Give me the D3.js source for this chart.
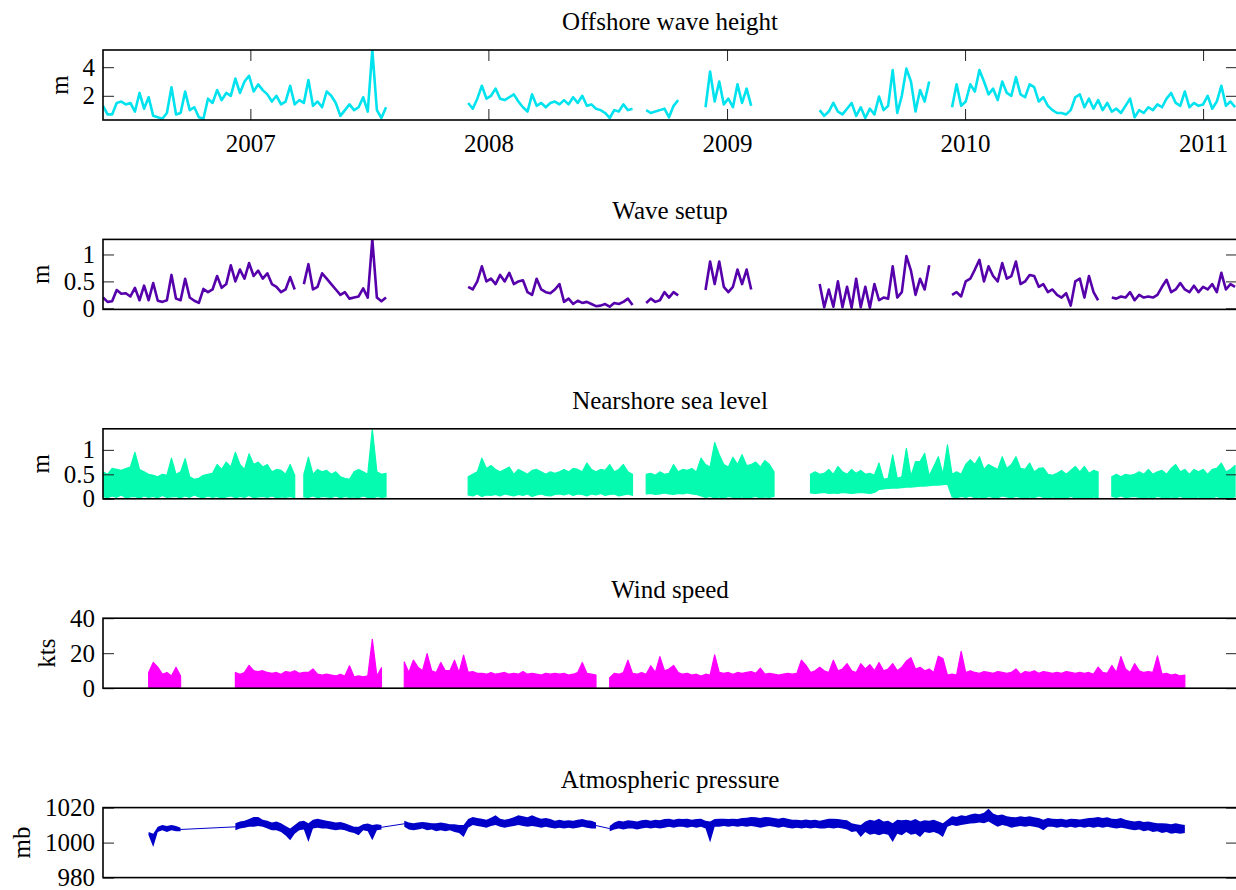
<!DOCTYPE html>
<html>
<head>
<meta charset="utf-8">
<title>Offshore and nearshore time series</title>
<style>
  body { margin: 0; background: #fff; }
  svg text { font-family: "Liberation Serif", "Times New Roman", serif; font-size: 25px; fill: #000; }
</style>
</head>
<body>
<script src="https://cdn.jsdelivr.net/npm/d3@7"></script>
<script>
// one sample per week starting 2006-05-20, null = no record
var firstWeek = new Date(Date.UTC(2006, 4, 20));
var lastDay = new Date(Date.UTC(2011, 1, 22));

var titles = ["Offshore wave height", "Wave setup", "Nearshore sea level", "Wind speed", "Atmospheric pressure"];
var units = ["m", "m", "m", "kts", "mb"];
var yTicks = [[2, 4], [0, 0.5, 1], [0, 0.5, 1], [0, 20, 40], [980, 1000, 1020]];
var yLimits = [[0.31, 5.2], [-0.02, 1.28], [0, 1.43], [0, 40], [980, 1020]];
var yearTicks = [2007, 2008, 2009, 2010, 2011];
var colors = ["#00e3ef", "#5500aa", "#04fbb0", "#ff00ff", "#0000c8"];

// offshore wave height (m)
var heightVals = [
  1.3, 0.7, 0.7, 1.5, 1.6, 1.4, 1.5, 0.9, 2.2, 1.1,
  1.9, 0.6, 0.5, 0.4, 0.8, 2.6, 0.7, 0.8, 2.3, 1.0,
  1.2, 0.5, 0.4, 1.8, 1.5, 2.4, 1.7, 2.2, 2.0, 3.2,
  2.2, 3.0, 3.4, 2.3, 2.8, 2.4, 2.1, 1.6, 2.0, 1.4,
  1.6, 2.7, 1.4, 1.7, 1.5, 3.1, 1.3, 1.6, 1.2, 2.3,
  2.0, 1.5, 0.6, 1.0, 1.4, 1.0, 1.2, 1.9, 0.9, 5.2,
  1.0, 0.45, 1.2, null, null, null, null, null, null, null,
  null, null, null, null, null, null, null, null, null, null,
  1.5, 1.1, 1.8, 2.7, 1.8, 2.0, 2.5, 1.8, 1.7, 1.9,
  2.1, 1.6, 1.2, 0.9, 2.1, 1.3, 1.5, 1.2, 1.5, 1.6,
  1.4, 1.7, 1.4, 1.9, 1.5, 2.0, 1.3, 1.4, 1.1, 1.0,
  0.8, 0.45, 1.0, 0.9, 1.4, 1.0, 1.1, null, null, 1.0,
  0.8, 0.9, 1.0, 1.1, 0.5, 1.3, 1.7, null, null, null,
  null, null, 1.2, 3.7, 1.6, 3.0, 1.4, 1.8, 1.2, 2.8,
  1.5, 2.5, 1.3, null, null, null, null, null, null, null,
  null, null, null, null, null, null, null, 1.0, 0.6, 0.9,
  1.5, 0.9, 0.7, 1.1, 1.5, 0.6, 1.2, 0.45, 1.1, 0.7,
  1.95, 1.0, 1.3, 3.8, 0.8, 2.0, 3.9, 3.0, 0.9, 2.4,
  1.6, 3.0, null, null, null, null, 1.2, 2.8, 1.3, 1.6,
  2.8, 2.3, 3.8, 3.0, 2.1, 2.5, 1.7, 3.0, 2.2, 2.0,
  3.3, 2.1, 1.9, 2.8, 2.6, 1.6, 1.9, 1.3, 1.0, 0.8,
  0.8, 0.7, 1.0, 1.9, 2.1, 1.2, 1.8, 1.1, 1.7, 1.0,
  1.5, 0.9, 1.1, 0.8, 1.3, 1.8, 0.5, 1.0, 0.8, 1.2,
  1.0, 1.4, 1.2, 1.8, 2.2, 1.5, 1.3, 2.3, 1.2, 1.5,
  1.3, 1.4, 2.0, 1.1, 1.6, 2.7, 1.3, 1.6, 1.2
];

// wave setup (m)
var setupVals = [
  0.2, 0.12, 0.13, 0.34, 0.27, 0.28, 0.22, 0.38, 0.15, 0.42,
  0.15, 0.47, 0.14, 0.12, 0.15, 0.62, 0.18, 0.15, 0.55, 0.2,
  0.14, 0.1, 0.36, 0.3, 0.35, 0.6, 0.38, 0.45, 0.8, 0.5,
  0.72, 0.55, 0.84, 0.6, 0.7, 0.55, 0.65, 0.45, 0.4, 0.3,
  0.35, 0.58, 0.35, null, 0.45, 0.82, 0.35, 0.4, 0.65, 0.55,
  0.45, 0.35, 0.25, 0.3, 0.18, 0.2, 0.22, 0.37, 0.2, 1.28,
  0.2, 0.13, 0.2, null, null, null, null, null, null, null,
  null, null, null, null, null, null, null, null, null, null,
  0.4, 0.35, 0.5, 0.78, 0.5, 0.55, 0.45, 0.62, 0.5, 0.66,
  0.45, 0.5, 0.52, 0.3, 0.25, 0.55, 0.35, 0.3, 0.28, 0.35,
  0.45, 0.12, 0.18, 0.08, 0.14, 0.1, 0.12, 0.08, 0.04, 0.05,
  0.08, 0.03, 0.1, 0.08, 0.12, 0.18, 0.06, null, null, 0.1,
  0.18, 0.12, 0.15, 0.3, 0.2, 0.3, 0.24, null, null, null,
  null, null, 0.34, 0.87, 0.45, 0.87, 0.4, 0.3, 0.4, 0.72,
  0.45, 0.72, 0.35, null, null, null, null, null, null, null,
  null, null, null, null, null, null, null, 0.45, 0.02, 0.35,
  0.03, 0.5, 0.02, 0.4, 0.01, 0.55, 0.02, 0.4, 0.01, 0.45,
  0.15, 0.2, 0.18, 0.78, 0.2, 0.3, 0.97, 0.7, 0.25, 0.55,
  0.35, 0.8, null, null, null, null, 0.25, 0.3, 0.22, 0.5,
  0.55, 0.72, 0.9, 0.5, 0.78, 0.6, 0.5, 0.84, 0.55, 0.6,
  0.87, 0.45, 0.5, 0.62, 0.6, 0.4, 0.45, 0.3, 0.35, 0.25,
  0.2, 0.28, 0.05, 0.5, 0.55, 0.2, 0.6, 0.3, 0.15, null,
  null, 0.2, 0.18, 0.22, 0.2, 0.3, 0.15, 0.25, 0.2, 0.22,
  0.2, 0.25, 0.4, 0.53, 0.3, 0.35, 0.47, 0.35, 0.3, 0.42,
  0.3, 0.4, 0.35, 0.45, 0.3, 0.66, 0.35, 0.45, 0.4
];

// nearshore sea level, weekly high and low (m)
var seaHigh = [
  0.55, 0.5, 0.62, 0.6, 0.58, 0.62, 0.65, 0.95, 0.6, 0.55,
  0.5, 0.48, 0.45, 0.5, 0.48, 0.83, 0.5, 0.55, 0.82, 0.45,
  0.4, 0.42, 0.48, 0.5, 0.52, 0.7, 0.6, 0.75, 0.65, 0.95,
  0.7, 0.6, 0.92, 0.7, 0.75, 0.65, 0.7, 0.55, 0.6, 0.58,
  0.5, 0.7, 0.48, null, 0.5, 0.85, 0.5, 0.6, 0.55, 0.58,
  0.5, 0.55, 0.45, 0.42, 0.4, 0.55, 0.6, 0.55, 0.5, 1.43,
  0.55, 0.5, 0.52, null, null, null, null, null, null, null,
  null, null, null, null, null, null, null, null, null, null,
  0.45, 0.5, 0.55, 0.83, 0.62, 0.68, 0.6, 0.55, 0.6, 0.65,
  0.5, 0.6, 0.55, 0.5, 0.58, 0.6, 0.55, 0.5, 0.55, 0.52,
  0.55, 0.6, 0.55, 0.62, 0.6, 0.55, 0.73, 0.6, 0.55, 0.6,
  0.58, 0.7, 0.55, 0.6, 0.7, 0.55, 0.5, null, null, 0.5,
  0.52, 0.48, 0.55, 0.5, 0.52, 0.7, 0.55, 0.6, 0.58, 0.62,
  0.55, 0.83, 0.7, 0.65, 1.15, 0.9, 0.7, 0.65, 0.85, 0.7,
  0.9, 0.68, 0.7, 0.75, 0.65, 0.78, 0.7, 0.55, null, null,
  null, null, null, null, null, 0.5, 0.55, 0.5, 0.52, 0.6,
  0.5, 0.66, 0.55, 0.5, 0.6, 0.52, 0.58, 0.5, 0.52, 0.48,
  0.73, 0.4, 0.42, 0.9, 0.42, 0.45, 1.03, 0.46, 0.76, 0.76,
  0.93, 0.47, 0.66, 0.86, 0.5, 1.1, 0.5, 0.55, 0.5, 0.7,
  0.8, 0.7, 0.86, 0.6, 0.7, 0.65, 0.6, 0.86, 0.62, 0.7,
  0.86, 0.62, 0.6, 0.73, 0.55, 0.62, 0.63, 0.5, 0.48, 0.52,
  0.58, 0.5, 0.58, 0.66, 0.55, 0.66, 0.52, 0.58, 0.55, null,
  null, 0.45, 0.5, 0.45, 0.5, 0.48, 0.5, 0.55, 0.5, 0.6,
  0.5, 0.55, 0.58, 0.5, 0.62, 0.7, 0.55, 0.6, 0.5, 0.6,
  0.55, 0.6, 0.5, 0.6, 0.62, 0.73, 0.55, 0.6, 0.68
];
var seaLow = [
  0.05, 0.02, 0.06, 0.03, 0.08, 0.02, 0.04, 0.05, 0.01, 0.06,
  0.03, 0.05, 0.02, 0.07, 0.03, 0.04, 0.05, 0.02, 0.06, 0.03,
  0.08, 0.04, 0.02, 0.06, 0.03, 0.05, 0.01, 0.04, 0.06, 0.02,
  0.05, 0.03, 0.07, 0.02, 0.04, 0.05, 0.03, 0.06, 0.02, 0.04,
  0.03, 0.05, 0.02, null, 0.04, 0.03, 0.06, 0.02, 0.05, 0.04,
  0.03, 0.06, 0.02, 0.05, 0.03, 0.04, 0.02, 0.06, 0.03, 0.01,
  0.05, 0.03, 0.04, null, null, null, null, null, null, null,
  null, null, null, null, null, null, null, null, null, null,
  0.08, 0.06, 0.1, 0.05, 0.08, 0.07, 0.09, 0.06, 0.1, 0.08,
  0.06, 0.09, 0.07, 0.1, 0.05, 0.08, 0.1, 0.07, 0.06, 0.09,
  0.1, 0.08, 0.11, 0.07, 0.1, 0.09, 0.06, 0.1, 0.08, 0.11,
  0.07, 0.09, 0.1, 0.06, 0.08, 0.1, 0.07, null, null, 0.1,
  0.11, 0.09, 0.1, 0.12, 0.1, 0.09, 0.11, 0.1, 0.12, 0.1,
  0.09, 0.06, 0.03, 0.05, 0.02, 0.04, 0.01, 0.05, 0.03, 0.02,
  0.04, 0.01, 0.03, 0.05, 0.02, 0.04, 0.03, 0.05, null, null,
  null, null, null, null, null, 0.12, 0.11, 0.12, 0.13, 0.11,
  0.12, 0.11, 0.13, 0.12, 0.11, 0.12, 0.13, 0.12, 0.11, 0.13,
  0.19, 0.2, 0.21, 0.22, 0.22, 0.23, 0.24, 0.24, 0.25, 0.26,
  0.26, 0.27, 0.28, 0.28, 0.29, 0.3, 0.04, 0.02, 0.05, 0.03,
  0.06, 0.02, 0.04, 0.01, 0.05, 0.03, 0.02, 0.06, 0.04, 0.02,
  0.05, 0.03, 0.01, 0.04, 0.02, 0.06, 0.03, 0.01, 0.04, 0.02,
  0.03, 0.01, 0.05, 0.02, 0.0, 0.03, 0.01, 0.04, 0.02, null,
  null, 0.05, 0.03, 0.06, 0.02, 0.04, 0.05, 0.03, 0.01, 0.04,
  0.02, 0.05, 0.03, 0.01, 0.04, 0.02, 0.05, 0.01, 0.03, 0.02,
  0.04, 0.01, 0.03, 0.02, 0.05, 0.01, 0.03, 0.02, 0.04
];

// wind speed, weekly peak (kts)
var windHigh = [
  null, null, null, null, null, null, null, null, null, null,
  9, 14.7, 12, 8, 9, 7, 12, 7, null, null,
  null, null, null, null, null, null, null, null, null, 9,
  8, 9, 13, 10, 9.5, 10, 9, 8.5, 9, 8,
  9.5, 9, 10, 8.5, 9, 9, 11, 8, 7.5, 8,
  7.5, 7, 8, 7, 12.8, 6.5, 7, 6.5, 7, 27.9,
  7, 11.7, null, null, null, null, 15, 9, 16, 12,
  10, 19.8, 10, 9, 14.7, 10, 10, 16, 9, 18.9,
  9, 9.5, 8.5, 8.5, 8, 9, 8, 8.5, 9, 8,
  8.5, 8, 9.5, 8, 8.5, 8, 7.5, 8.5, 8, 8.5,
  8, 8.5, 7.5, 8, 9, 14.7, 8.5, 8, 7.5, null,
  null, 6, 8.5, 8, 9, 16, 8.5, 8, 9, 8,
  12.8, 9, 18, 10, 11, 13, 9, 8, 8.5, 7.5,
  8, 7, 8, 7.5, 19, 9, 8.5, 9, 8, 9,
  8.5, 9, 9.5, 8.5, 11.5, 8, 8.5, 8, 7.5, 8,
  8.5, 8, 8.5, 16, 13, 9, 10, 12, 10, 9,
  16, 10, 11, 14, 10, 9, 14, 11, 13.5, 10,
  14.7, 10, 11, 14, 10, 12, 15.5, 17.4, 11, 12,
  10, 11, 9, 18.3, 17, 7.5, 8, 7.5, 21, 9,
  10, 9, 8.5, 9.5, 9, 8.5, 9.5, 9, 8.5, 9,
  11, 8, 9.5, 9, 10, 8.5, 9.5, 9, 8.5, 9,
  8.5, 9.5, 9, 8.5, 9, 8.5, 9, 8, 12, 9,
  8.5, 13, 9, 18, 11, 9, 14, 10, 9, 9.5,
  9, 18.5, 8, 8.5, 7.5, 8, 7, 7.5, null, null,
  null, null, null, null, null, null, null, null, null
];

// atmospheric pressure, weekly low and high (mb)
var pressLow = [
  null, null, null, null, null, null, null, null, null, null,
  1004, 997.5, 1006, 1007, 1006, 1007, 1006.5, 1006.5, null, null,
  null, null, null, null, null, null, null, null, null, 1007,
  1008, 1008.5, 1009, 1009, 1009.5, 1009, 1008, 1007, 1007, 1006,
  1004, 1001.3, 1005, 1007, 1007.5, 1000.4, 1008, 1008.5, 1008, 1008,
  1007.5, 1007, 1007.5, 1007, 1006, 1005.5, 1004.2, 1007, 1006.5, 1001.3,
  1007, 1007.5, null, null, null, null, 1009, 1007.5, 1007, 1007.5,
  1008, 1007, 1007.5, 1006.5, 1007, 1006.5, 1007, 1006, 1005.5, 1003.2,
  1008.5, 1010, 1009.5, 1009, 1008.5, 1009.5, 1010, 1009, 1008.5, 1009,
  1009.5, 1010, 1009.5, 1009, 1009.5, 1009, 1008.5, 1009, 1008.5, 1008,
  1008.5, 1008, 1008.5, 1008, 1008.5, 1009, 1008.5, 1008, 1008, null,
  null, 1006.5, 1007.5, 1008, 1007.5, 1008, 1008, 1007.5, 1008, 1008.5,
  1008, 1008.5, 1008, 1008.5, 1009, 1008.5, 1009, 1009, 1008.5, 1009,
  1008.5, 1009, 1008, 1000, 1009, 1009, 1009.5, 1009, 1009.5, 1009,
  1009.5, 1009, 1009.5, 1009, 1008.5, 1009, 1009.5, 1009, 1008.5, 1009,
  1008.5, 1008, 1008.5, 1008, 1008.5, 1008, 1008.5, 1008, 1008, 1008.5,
  1008, 1008.5, 1008, 1007.5, 1006, 1006.5, 1003.2, 1006, 1004.5, 1005,
  1004.2, 1005, 1004.5, 1000.4, 1005, 1004.2, 1006, 1004.5, 1005, 1003.2,
  1006, 1005.5, 1006, 1005, 1003.2, 1009, 1010, 1009.5, 1010, 1010.5,
  1010.9, 1011, 1011.5, 1011, 1012, 1010.5, 1009, 1010, 1009.5, 1008.5,
  1009, 1009.5, 1009, 1009.5, 1009, 1008.5, 1007, 1009, 1009, 1008.5,
  1009, 1008.5, 1009, 1008.5, 1009, 1008.5, 1009, 1008.5, 1009, 1008.5,
  1009, 1008.5, 1008, 1008.5, 1008, 1007.5, 1007, 1007.5, 1006.5, 1007,
  1006, 1006.5, 1005.5, 1006, 1005, 1005.5, 1005, 1005.5, null, null,
  null, null, null, null, null, null, null, null, null
];
var pressHigh = [
  null, null, null, null, null, null, null, null, null, null,
  1006, 1005, 1009, 1010, 1009.5, 1010, 1009.5, 1008.5, null, null,
  null, null, null, null, null, null, null, null, null, 1011,
  1012, 1012.5, 1013.5, 1014.7, 1014.7, 1013, 1012.5, 1011.5, 1012, 1011,
  1009.5, 1008, 1010, 1012, 1012.5, 1011, 1013, 1013.7, 1013, 1012.5,
  1012, 1011.5, 1011.8, 1011, 1010, 1009, 1009, 1010.5, 1010.9, 1010,
  1010.5, 1010, null, null, null, null, 1012.5, 1011.5, 1011, 1011.5,
  1011.8, 1011.5, 1011, 1011, 1011.5, 1011, 1010.5, 1010.5, 1010, 1010,
  1013.5, 1014.7, 1014, 1013.7, 1013, 1014.2, 1015.6, 1013.7, 1013, 1013.7,
  1014.5, 1015.6, 1015, 1014.5, 1015.6, 1014.5, 1013.7, 1014, 1013.5, 1012.5,
  1013, 1012.5, 1012.8, 1012.5, 1013, 1013.5, 1012.8, 1012.5, 1011.5, null,
  null, 1009.5, 1011.5, 1012.5, 1012, 1012.8, 1012.5, 1012, 1012.8, 1013,
  1012.5, 1013, 1012.8, 1013.5, 1013.7, 1013, 1013.7, 1013.5, 1013.7, 1013,
  1013.5, 1013.7, 1012.5, 1012, 1013.5, 1013.7, 1013.7, 1013.5, 1013.7, 1013.5,
  1014, 1014.2, 1014.7, 1014.5, 1014, 1014.7, 1014.5, 1014, 1013.7, 1014.2,
  1013.7, 1013, 1013, 1012.8, 1013.2, 1012.8, 1013, 1012.5, 1013, 1013.7,
  1013.7, 1013.5, 1013, 1012.8, 1011, 1010.5, 1010, 1012, 1013, 1012.5,
  1013.7, 1012, 1012.5, 1011, 1013, 1012.8, 1013, 1012.5, 1013.5, 1012,
  1012.8, 1012.5, 1013, 1012, 1011, 1013, 1015, 1014.7, 1015.6, 1015.2,
  1016, 1016.6, 1016.2, 1017, 1019.4, 1016.6, 1015.6, 1016, 1015, 1014.7,
  1014.5, 1015, 1014.7, 1015, 1014.5, 1014, 1013, 1014, 1013.7, 1013.5,
  1013.7, 1013, 1013.7, 1013.5, 1013.2, 1013.7, 1014, 1014.2, 1014.7, 1014,
  1014.5, 1013.7, 1013.5, 1014, 1013, 1012.5, 1012, 1012.5, 1011.8, 1012,
  1011.5, 1011, 1011, 1010.9, 1010.5, 1011, 1010.5, 1010, null, null,
  null, null, null, null, null, null, null, null, null
];

var width = 1236, height = 890;
var left = 103, right = 1237, plotH = 70;
var tops = [50, 239.4, 428.8, 618.2, 807.6];

var weeks = heightVals.map(function(d, i) { return d3.utcDay.offset(firstWeek, 7 * i); });

var svg = d3.select("body").append("svg")
  .attr("width", width)
  .attr("height", height);

var x = d3.scaleUtc().domain([firstWeek, lastDay]).range([left, right]);

function panel(k) {
  var top = tops[k], bottom = top + plotH;
  var y = d3.scaleLinear().domain(yLimits[k]).range([bottom, top]);
  var g = svg.append("g");
  g.append("clipPath").attr("id", "clip" + k)
    .append("rect")
    .attr("x", left).attr("y", top)
    .attr("width", right - left).attr("height", plotH);
  var plot = g.append("g").attr("clip-path", "url(#clip" + k + ")");
  return { g: g, y: y, plot: plot, top: top, bottom: bottom };
}

function frame(p, k) {
  var g = p.g;
  var axL = g.append("g")
    .attr("transform", "translate(" + left + ",0)")
    .call(d3.axisLeft(p.y).tickValues(yTicks[k]).tickSize(-11).tickPadding(8).tickFormat(d3.format("")));
  var axR = g.append("g")
    .attr("transform", "translate(" + right + ",0)")
    .call(d3.axisRight(p.y).tickValues(yTicks[k]).tickSize(-11).tickFormat(""));
  [axL, axR].forEach(function(a) {
    a.select(".domain").remove();
    a.selectAll("line").attr("stroke", "#222").attr("stroke-width", 1);
  });

  if (k === 0) {
    var years = yearTicks.map(function(yr) { return new Date(Date.UTC(yr, 0, 1)); });
    var axB = g.append("g")
      .attr("transform", "translate(0," + p.bottom + ")")
      .call(d3.axisBottom(x).tickValues(years).tickSize(-11).tickPadding(14).tickFormat(d3.utcFormat("%Y")));
    var axT = g.append("g")
      .attr("transform", "translate(0," + p.top + ")")
      .call(d3.axisTop(x).tickValues(years).tickSize(-11).tickFormat(""));
    [axB, axT].forEach(function(a) {
      a.select(".domain").remove();
      a.selectAll("line").attr("stroke", "#222").attr("stroke-width", 1);
    });
  }

  g.append("rect")
    .attr("x", left).attr("y", p.top)
    .attr("width", right - left).attr("height", plotH)
    .attr("fill", "none")
    .attr("stroke", "#000")
    .attr("stroke-width", 1.6);

  g.append("text")
    .attr("x", (left + right) / 2)
    .attr("y", p.top - 20)
    .attr("text-anchor", "middle")
    .text(titles[k]);

  var box = axL.node().getBBox();
  var lx = left + box.x - 15;
  g.append("text")
    .attr("transform", "translate(" + lx + "," + (p.top + p.bottom) / 2 + ") rotate(-90)")
    .attr("text-anchor", "middle")
    .text(units[k]);
}

function points(vals) {
  return vals.map(function(v, i) { return { t: weeks[i], v: v }; });
}
function bands(lo, hi) {
  return lo.map(function(v, i) { return { t: weeks[i], lo: v, hi: hi[i] }; });
}

// 1. offshore wave height
var p0 = panel(0);
p0.plot.append("path")
  .datum(points(heightVals))
  .attr("fill", "none")
  .attr("stroke", colors[0])
  .attr("stroke-width", 2.6)
  .attr("stroke-linejoin", "round")
  .attr("d", d3.line()
    .defined(function(d) { return d.v != null; })
    .x(function(d) { return x(d.t); })
    .y(function(d) { return p0.y(d.v); }));
frame(p0, 0);

// 2. wave setup
var p1 = panel(1);
p1.plot.append("path")
  .datum(points(setupVals))
  .attr("fill", "none")
  .attr("stroke", colors[1])
  .attr("stroke-width", 2.6)
  .attr("stroke-linejoin", "round")
  .attr("d", d3.line()
    .defined(function(d) { return d.v != null; })
    .x(function(d) { return x(d.t); })
    .y(function(d) { return p1.y(d.v); }));
frame(p1, 1);

// 3. nearshore sea level
var p2 = panel(2);
p2.plot.append("path")
  .datum(bands(seaLow, seaHigh))
  .attr("fill", colors[2])
  .attr("stroke", colors[2])
  .attr("stroke-width", 1.2)
  .attr("stroke-linejoin", "round")
  .attr("d", d3.area()
    .defined(function(d) { return d.lo != null && d.hi != null; })
    .x(function(d) { return x(d.t); })
    .y0(function(d) { return p2.y(d.lo); })
    .y1(function(d) { return p2.y(d.hi); }));
frame(p2, 2);

// 4. wind speed
var p3 = panel(3);
p3.plot.append("path")
  .datum(points(windHigh))
  .attr("fill", colors[3])
  .attr("stroke", colors[3])
  .attr("stroke-width", 1.2)
  .attr("stroke-linejoin", "round")
  .attr("d", d3.area()
    .defined(function(d) { return d.v != null; })
    .x(function(d) { return x(d.t); })
    .y0(p3.y(0))
    .y1(function(d) { return p3.y(d.v); }));
frame(p3, 3);

// 5. atmospheric pressure: band, with the record joined across gaps
var p4 = panel(4);
var pr = bands(pressLow, pressHigh);
p4.plot.append("path")
  .datum(pr.filter(function(d) { return d.lo != null; }))
  .attr("fill", "none")
  .attr("stroke", colors[4])
  .attr("stroke-width", 1)
  .attr("d", d3.line()
    .x(function(d) { return x(d.t); })
    .y(function(d) { return p4.y((d.lo + d.hi) / 2); }));
p4.plot.append("path")
  .datum(pr)
  .attr("fill", colors[4])
  .attr("stroke", "none")
  .attr("d", d3.area()
    .defined(function(d) { return d.lo != null; })
    .x(function(d) { return x(d.t); })
    .y0(function(d) { return p4.y(d.lo); })
    .y1(function(d) { return p4.y(d.hi); }));
frame(p4, 4);
</script>
</body>
</html>
